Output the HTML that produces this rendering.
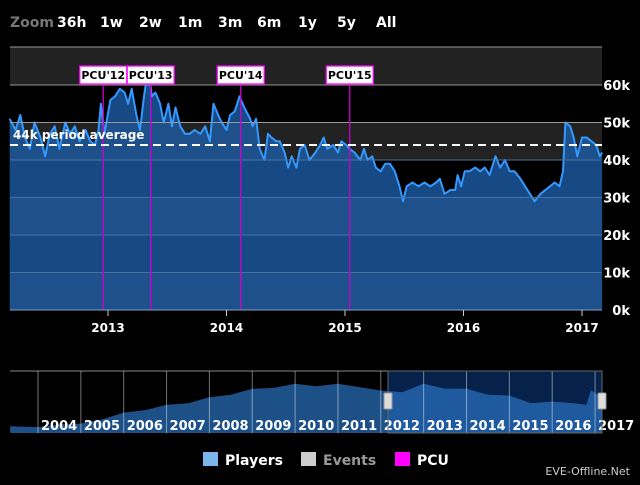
<!DOCTYPE html>
<html><head><meta charset="utf-8"><style>
body{margin:0;background:#000;width:640px;height:480px;overflow:hidden;font-family:"Liberation Sans","DejaVu Sans",sans-serif}
svg text{font-family:"DejaVu Sans","Liberation Sans",sans-serif}
</style></head><body>
<svg id="c" width="640" height="480">
<rect x="0" y="0" width="640" height="480" fill="#000"/>
<g id="zoombar" font-size="14" font-weight="bold" fill="#fff">
<text x="10" y="27" fill="#777">Zoom</text>
<text x="57" y="27">36h</text>
<text x="100" y="27">1w</text>
<text x="139" y="27">2w</text>
<text x="178" y="27">1m</text>
<text x="218" y="27">3m</text>
<text x="257" y="27">6m</text>
<text x="298" y="27">1y</text>
<text x="337" y="27">5y</text>
<text x="376" y="27">All</text>
</g>
<g id="bands"></g><g id="area"></g><g id="grid"></g><g id="pcu"></g><g id="avg"></g><g id="yax"></g><g id="xax"></g><g id="nav"></g>
<g font-size="14" font-weight="bold">
<rect x="203" y="452" width="15" height="14" fill="#7cb5ec"/>
<text x="225" y="465" fill="#fff">Players</text>
<rect x="301" y="452" width="15" height="14" fill="#ccc"/>
<text x="323" y="465" fill="#999">Events</text>
<rect x="395" y="452" width="15" height="14" fill="#f0f"/>
<text x="417" y="465" fill="#fff">PCU</text>
</g>
<text x="630" y="475" text-anchor="end" font-size="11" fill="#ccc">EVE-Offline.Net</text>
</svg>
<script>
const years=[2012.17,2012.22,2012.26,2012.30,2012.34,2012.38,2012.43,2012.47,2012.51,2012.55,2012.59,2012.64,2012.68,2012.72,2012.76,2012.81,2012.85,2012.89,2012.92,2012.94,2012.97,2013.02,2013.06,2013.10,2013.14,2013.17,2013.20,2013.24,2013.27,2013.30,2013.34,2013.37,2013.40,2013.44,2013.47,2013.51,2013.54,2013.57,2013.61,2013.65,2013.69,2013.73,2013.78,2013.82,2013.86,2013.89,2013.93,2013.96,2014.00,2014.03,2014.07,2014.11,2014.15,2014.20,2014.22,2014.25,2014.28,2014.32,2014.35,2014.38,2014.42,2014.45,2014.49,2014.52,2014.55,2014.59,2014.62,2014.66,2014.70,2014.75,2014.79,2014.82,2014.85,2014.90,2014.94,2014.97,2015.01,2015.04,2015.08,2015.13,2015.16,2015.19,2015.23,2015.26,2015.30,2015.34,2015.38,2015.42,2015.46,2015.49,2015.52,2015.57,2015.62,2015.67,2015.72,2015.77,2015.80,2015.84,2015.89,2015.93,2015.95,2015.98,2016.01,2016.05,2016.10,2016.14,2016.18,2016.22,2016.27,2016.31,2016.35,2016.39,2016.43,2016.48,2016.52,2016.56,2016.60,2016.65,2016.69,2016.73,2016.77,2016.81,2016.84,2016.86,2016.90,2016.93,2016.96,2017.00,2017.04,2017.08,2017.12,2017.15,2017.17];
const players=[51,48,52,46,43,50,46,41,47,49,43,50,47,49,45,48,45,44,48,55,47,56,57,59,58,55,59,52,48,56,65,57,58,55,50,55,49,54,49,47,47,48,47,49,45,55,52,50,48,52,53,57,54,51,49,51,43,40,47,46,45,45,42,38,41,38,43,44,40,42,44,46,43,44,42,45,44,43,42,40,43,40,41,38,37,39,39,37,33,29,33,34,33,34,33,34,35,31,32,32,36,33,37,37,38,37,38,36,41,38,40,37,37,35,33,31,29,31,32,33,34,33,37,50,49,46,41,46,46,45,44,41,42];
const yTicks=[0,10,20,30,40,50,60];
const yTickLabels=["0k","10k","20k","30k","40k","50k","60k"];
const xTicks=[2013,2014,2015,2016,2017];
const average=[44];
const pcuYears=[2012.96,2013.36,2014.12,2015.04];
const pcuLabels=["PCU'12","PCU'13","PCU'14","PCU'15"];
const navYears=[2003.35,2004,2004.5,2005,2005.5,2006,2006.5,2007,2007.5,2008,2008.5,2009,2009.5,2010,2010.5,2011,2011.5,2012,2012.5,2013,2013.5,2014,2014.5,2015,2015.5,2016,2016.5,2016.8,2016.9,2017.17];
const navValues=[8,7,10,11,16,24,27,33,35,42,45,52,53,58,55,58,54,50,48,58,52,52,45,44,35,37,35,33,50,42];
const navLabels=[2004,2005,2006,2007,2008,2009,2010,2011,2012,2013,2014,2015,2016,2017];

const NS="http://www.w3.org/2000/svg";
function mk(p,t,a){const e=document.createElementNS(NS,t);for(const k in a)e.setAttribute(k,a[k]);p.appendChild(e);return e;}
const L=10,R=602,T=47,B=310;
const xs=y=>108+(y-2013)*118.5;
const ys=v=>B-v*3.75;
const g=id=>document.getElementById(id);

for(let i=0;i<7;i++){const lo=i*10,hi=Math.min(70,lo+10);
 const top=i==6?T:ys(hi);
 const r=mk(g('bands'),'rect',{x:L,y:top,width:R-L,height:ys(lo)-top,fill:i%2==0?'#222':'#000'});
 
 }
let d='';years.forEach((y,i)=>{d+=(i?'L':'M')+xs(y).toFixed(1)+','+ys(players[i]).toFixed(1);});
const ar=mk(g('area'),'path',{d:d+`L${xs(years[years.length-1])},${B}L${xs(years[0])},${B}Z`,fill:'rgba(30,95,170,0.78)'});


yTicks.forEach((v,i)=>{const inA=v<=40;
 const l=mk(g('grid'),'line',{x1:L,x2:R,y1:ys(v),y2:ys(v),stroke:inA?'#4a70a0':'#999','stroke-width':1});
 
 
 const t=mk(g('yax'),'text',{x:630,y:ys(v)+5,'text-anchor':'end','font-size':13,'font-weight':'bold',fill:'#fff'});
 t.textContent=yTickLabels[i];
 
 });
const tl=mk(g('grid'),'line',{x1:L,x2:R,y1:T,y2:T,stroke:'#999'});


const ln=mk(g('area'),'path',{d:d,fill:'none',stroke:'#3399ff','stroke-width':2,'stroke-linejoin':'round'});


pcuYears.forEach((y,i)=>{const x=xs(y);
 const l=mk(g('pcu'),'line',{x1:x,x2:x,y1:85,y2:B,stroke:'#c0c',"stroke-width":1.3});
 
 
 const w=47;const r=mk(g('pcu'),'rect',{x:x-w/2,y:66,width:w,height:18,fill:'#fff',stroke:'#f0f','stroke-width':1.3});
 
 
 const t=mk(g('pcu'),'text',{x:x,y:79,'text-anchor':'middle','font-size':11,'font-weight':'bold',fill:'#000'});
 t.textContent=pcuLabels[i];
 
 });
const al=mk(g('avg'),'line',{x1:L,x2:R,y1:ys(average[0]),y2:ys(average[0]),stroke:'#fff','stroke-width':2,'stroke-dasharray':'8,5'});


const at=mk(g('avg'),'text',{x:13,y:ys(average[0])-6,'font-size':12,'font-weight':'bold',fill:'#fff'});
at.textContent=average[0]+'k period average';


const xl=mk(g('xax'),'line',{x1:L,x2:R,y1:B,y2:B,stroke:'#8aa0c0'});


xTicks.forEach(y=>{const x=xs(y);
 const k=mk(g('xax'),'line',{x1:x,x2:x,y1:B,y2:B+6,stroke:'#ccc'});
 
 
 const t=mk(g('xax'),'text',{x:x,y:332,'text-anchor':'middle','font-size':12,'font-weight':'bold',fill:'#fff'});
 t.textContent=y;
 
 });
const nx=y=>38+(y-2004)*42.85, ny=v=>433-v*0.85;
const N=g('nav');
const nb=mk(N,'line',{x1:L,x2:R,y1:371,y2:371,stroke:'#888'});


const sel=mk(N,'rect',{x:388,y:371,width:214,height:62,fill:'#06224a'});


let nd='';navYears.forEach((y,i)=>{nd+=(i?'L':'M')+nx(y).toFixed(1)+','+ny(navValues[i]).toFixed(1);});
const na=mk(N,'path',{d:nd+`L${nx(navYears[navYears.length-1])},433L${nx(navYears[0])},433Z`,fill:'#1e5088'});


const na2=mk(N,'path',{d:nd+`L${nx(navYears[navYears.length-1])},433L${nx(navYears[0])},433Z`,fill:'#1f5da8',opacity:0.7,'clip-path':'url(#selclip)'});


const cp=mk(mk(N,'defs',{}),'clipPath',{id:'selclip'});mk(cp,'rect',{x:388,y:371,width:214,height:62});
navLabels.forEach(y=>{const x=nx(y);
 const l=mk(N,'line',{x1:x,x2:x,y1:371,y2:433,stroke:'rgba(255,255,255,0.45)'});
 
 
 const t=mk(N,'text',{x:x+3,y:430,'font-size':13,'font-weight':'bold',fill:'#fff'});
 t.textContent=y;
 
 });
const so=mk(N,'rect',{x:388,y:371,width:214,height:62,fill:'none',stroke:'#666'});


[388,602].forEach(x=>{const h=mk(N,'rect',{x:x-4,y:393,width:8,height:16,fill:'#ddd',stroke:'#999',rx:1});
 
 });
</script>
</body></html>
